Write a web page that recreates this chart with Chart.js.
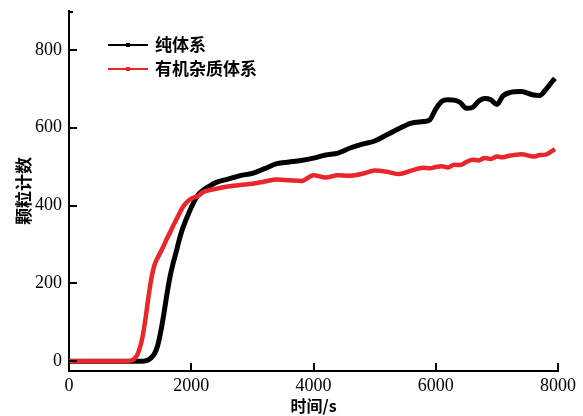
<!DOCTYPE html>
<html>
<head>
<meta charset="utf-8">
<script src="https://cdn.jsdelivr.net/npm/chart.js@4"></script>
<style>
  html, body { margin: 0; padding: 0; background: #fff; }
  #wrap { width: 583px; height: 416px; }
</style>
</head>
<body>
<div id="wrap"><canvas id="chart" width="583" height="416"></canvas></div>
<script>
// time (s)
const times = [0, 400, 800, 1000, 1100, 1150, 1200, 1250, 1300, 1350, 1400, 1450, 1500, 1550, 1600, 1650, 1700, 1750, 1800, 1850, 1900, 1950, 2000, 2100, 2200, 2300, 2400, 2600, 2800, 3000, 3200, 3400, 3600, 3800, 4000, 4200, 4400, 4600, 4800, 5000, 5200, 5400, 5600, 5800, 5900, 6000, 6100, 6200, 6300, 6400, 6500, 6600, 6700, 6800, 6900, 7000, 7100, 7200, 7400, 7600, 7700, 7800, 7900, 7950];

// 纯体系
const pureCounts = [0, 0, 0, 0, 0, 0, 0, 1, 4, 10, 20, 40, 75, 120, 170, 215, 250, 279, 310, 337, 358, 377, 395, 425, 440, 450, 459, 468, 477, 483, 495, 508, 512, 516, 522, 530, 535, 548, 558, 566, 582, 598, 612, 616, 620, 648, 668, 672, 671, 665, 650, 652, 668, 675, 672, 660, 682, 690, 693, 684, 683, 698, 718, 727];

// 有机杂质体系
const impureCounts = [0, 0, 0, 1, 12, 30, 60, 108, 165, 215, 248, 266, 281, 297, 315, 330, 347, 362, 378, 393, 404, 412, 418, 424, 435, 440, 443, 449, 453, 456, 462, 467, 465, 463, 478, 472, 478, 477, 482, 490, 487, 481, 490, 497, 496, 499, 501, 498, 505, 504, 512, 518, 516, 522, 520, 526, 524, 528, 532, 526, 530, 531, 540, 545];

const seriesNames = ['纯体系', '有机杂质体系'];
const xTicks = [0, 2000, 4000, 6000, 8000];
const yTicks = [0, 200, 400, 600, 800];

const toPoints = (xs, ys) => xs.map((x, i) => ({ x: x, y: ys[i] }));

// ticks pointing into the plot
const innerTicks = {
  id: 'innerTicks',
  afterDatasetsDraw(chart) {
    const ctx = chart.ctx;
    const xs = chart.scales.x, ys = chart.scales.y;
    const area = chart.chartArea;
    ctx.save();
    ctx.strokeStyle = '#000';
    ctx.lineWidth = 2;
    ctx.beginPath();
    xTicks.forEach(v => {
      const p = Math.round(xs.getPixelForValue(v));
      ctx.moveTo(p, area.bottom);
      ctx.lineTo(p, area.bottom - 8);
    });
    yTicks.forEach(v => {
      const p = Math.round(ys.getPixelForValue(v));
      ctx.moveTo(area.left, p);
      ctx.lineTo(area.left + 8, p);
    });
    ctx.moveTo(area.left, area.top + 1);
    ctx.lineTo(area.left + 4, area.top + 1);
    ctx.stroke();
    ctx.restore();
  }
};

// legend at top left inside the plot
const insideLegend = {
  id: 'insideLegend',
  afterDraw(chart) {
    const ctx = chart.ctx;
    ctx.save();
    ctx.font = 'bold 17px "Noto Sans CJK SC"';
    ctx.textBaseline = 'middle';
    chart.data.datasets.forEach((ds, i) => {
      const y = 45 + i * 24;
      ctx.strokeStyle = ds.borderColor;
      ctx.lineWidth = 2;
      ctx.beginPath();
      ctx.moveTo(108, y);
      ctx.lineTo(148, y);
      ctx.stroke();
      ctx.fillStyle = ds.borderColor;
      ctx.fillRect(126, y - 2, 4, 4);
      ctx.fillStyle = '#000';
      ctx.fillText(ds.label, 155, y);
    });
    ctx.restore();
  }
};

new Chart(document.getElementById('chart'), {
  type: 'line',
  data: {
    datasets: [
      {
        label: seriesNames[0],
        data: toPoints(times, pureCounts),
        borderColor: '#000000',
        borderWidth: 5,
        pointRadius: 0,
        cubicInterpolationMode: 'monotone',
        order: 1
      },
      {
        label: seriesNames[1],
        data: toPoints(times, impureCounts),
        borderColor: '#e8262b',
        borderWidth: 4.5,
        pointRadius: 0,
        cubicInterpolationMode: 'monotone',
        order: 0
      }
    ]
  },
  options: {
    responsive: false,
    animation: false,
    layout: { padding: { top: 11, right: 25, left: 0, bottom: 0 } },
    plugins: {
      legend: { display: false },
      tooltip: { enabled: false }
    },
    scales: {
      x: {
        type: 'linear',
        min: 0,
        max: 8000,
        afterBuildTicks: s => { s.ticks = xTicks.map(v => ({ value: v })); },
        afterFit: s => { s.height = 45; },
        grid: { display: true, drawOnChartArea: false, drawTicks: false },
        border: { display: true, color: '#000', width: 2 },
        ticks: {
          color: '#000',
          padding: 4,
          callback: v => String(v),
          font: { family: '"Liberation Serif"', size: 18 }
        },
        title: {
          display: true,
          text: '时间/s',
          color: '#000',
          padding: { top: 0, bottom: 0 },
          font: { family: '"Noto Sans CJK SC"', size: 16, weight: 'bold' }
        }
      },
      y: {
        min: -25,
        max: 900,
        afterBuildTicks: s => { s.ticks = yTicks.map(v => ({ value: v })); },
        afterFit: s => { s.width = 69; s.paddingTop = 0; s.paddingBottom = 0; },
        grid: { display: true, drawOnChartArea: false, drawTicks: false },
        border: { display: true, color: '#000', width: 2 },
        ticks: {
          color: '#000',
          padding: 7,
          callback: v => String(v),
          font: { family: '"Liberation Serif"', size: 18 }
        },
        title: {
          display: true,
          text: '颗粒计数',
          color: '#000',
          padding: { top: 13, bottom: 0 },
          font: { family: '"Noto Sans CJK SC"', size: 17, weight: 'bold' }
        }
      }
    }
  },
  plugins: [innerTicks, insideLegend]
});
</script>
</body>
</html>
